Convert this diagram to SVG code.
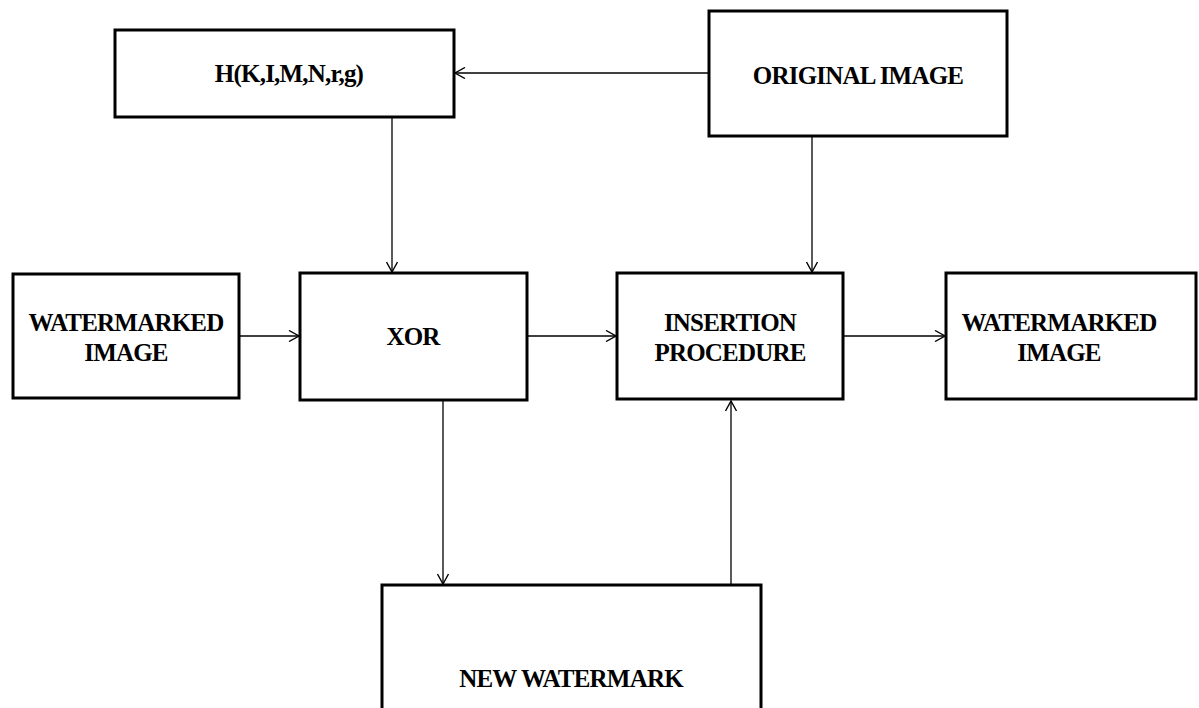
<svg xmlns="http://www.w3.org/2000/svg" width="1199" height="708" viewBox="0 0 1199 708">
<style>
.box{fill:#fff;stroke:#000;stroke-width:3}
.lbl{font-family:"Liberation Serif","Times New Roman",serif;font-weight:bold;font-size:25px;text-anchor:middle;fill:#000;letter-spacing:-0.8px}
.con{stroke:#000;stroke-width:1.3;fill:none;marker-end:url(#arr)}
</style>
<defs>
<marker id="arr" viewBox="0 0 12 12" refX="11" refY="6" markerWidth="12" markerHeight="12" markerUnits="userSpaceOnUse" orient="auto">
<path d="M1,0.5 L11,6 L1,11.5" fill="none" stroke="#000" stroke-width="1.4"/>
</marker>
</defs>
<rect width="1199" height="708" fill="#fff"/>
<g id="connectors">
<line class="con" x1="709" y1="73" x2="455" y2="73"/>
<line class="con" x1="392" y1="117" x2="392" y2="272"/>
<line class="con" x1="812" y1="136" x2="812" y2="272"/>
<line class="con" x1="239" y1="336" x2="299" y2="336"/>
<line class="con" x1="527" y1="336" x2="616" y2="336"/>
<line class="con" x1="843" y1="336" x2="945" y2="336"/>
<line class="con" x1="443" y1="400" x2="443" y2="584"/>
<line class="con" x1="731" y1="585" x2="731" y2="401"/>
</g>
<g id="node-h">
<rect class="box" x="115" y="30" width="339" height="87"/>
<text class="lbl" x="289" y="82">H(K,I,M,N,r,g)</text>
</g>
<g id="node-original">
<rect class="box" x="709" y="11" width="298" height="125"/>
<text class="lbl" x="858" y="84">ORIGINAL IMAGE</text>
</g>
<g id="node-wm-in">
<rect class="box" x="13" y="274" width="226" height="124"/>
<text class="lbl" x="126" y="331">WATERMARKED</text>
<text class="lbl" x="126" y="361">IMAGE</text>
</g>
<g id="node-xor">
<rect class="box" x="300" y="273" width="227" height="127"/>
<text class="lbl" x="413" y="345">XOR</text>
</g>
<g id="node-insertion">
<rect class="box" x="617" y="273" width="226" height="126"/>
<text class="lbl" x="730" y="331">INSERTION</text>
<text class="lbl" x="730" y="361">PROCEDURE</text>
</g>
<g id="node-wm-out">
<rect class="box" x="946" y="273" width="250" height="126"/>
<text class="lbl" x="1059" y="331">WATERMARKED</text>
<text class="lbl" x="1059" y="361">IMAGE</text>
</g>
<g id="node-new">
<rect class="box" x="382" y="585" width="379" height="140"/>
<text class="lbl" x="571" y="687">NEW WATERMARK</text>
</g>
</svg>
